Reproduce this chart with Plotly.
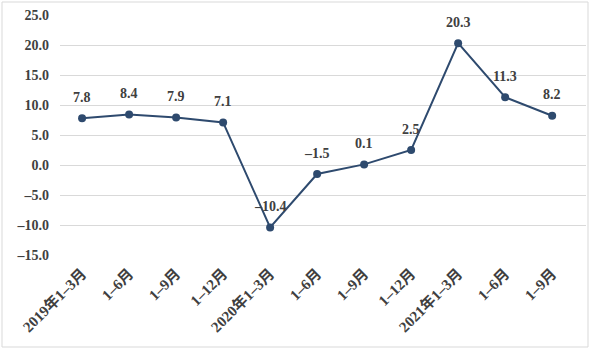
import plotly.graph_objects as go

categories = ["2019年1–3月", "1–6月", "1–9月", "1–12月", "2020年1–3月", "1–6月 ", "1–9月 ",
              "1–12月 ", "2021年1–3月", "1–6月  ", "1–9月  "]
values = [7.8, 8.4, 7.9, 7.1, -10.4, -1.5, 0.1, 2.5, 20.3, 11.3, 8.2]
labels = ["7.8", "8.4", "7.9", "7.1", "–10.4", "–1.5", "0.1", "2.5", "20.3", "11.3", "8.2"]
yticks = [25, 20, 15, 10, 5, 0, -5, -10, -15]
yticktext = ["25.0", "20.0", "15.0", "10.0", "5.0", "0.0", "–5.0", "–10.0", "–15.0"]

font_family = "Liberation Serif, Times New Roman, Noto Sans CJK SC, serif"

fig = go.Figure()
fig.add_trace(go.Scatter(
    x=categories, y=values, mode="lines+markers",
    line=dict(color="#2e4a6e", width=2),
    marker=dict(color="#2e4a6e", size=8),
    cliponaxis=False,
))
for c, v, t in zip(categories, values, labels):
    fig.add_annotation(x=c, y=v, text=f"<b>{t}</b>", showarrow=False, yshift=21,
                       font=dict(family=font_family, size=14, color="#404040"))

fig.update_layout(
    width=592, height=352,
    margin=dict(l=60, r=6, t=15, b=97),
    paper_bgcolor="white", plot_bgcolor="white",
    showlegend=False,
    font=dict(family=font_family, color="#404040"),
    xaxis=dict(
        type="category", tickangle=-45, showgrid=False, showline=False, ticks="",
        tickfont=dict(family=font_family, size=15, color="#404040"),
        tickvals=categories,
        ticktext=[f"<b>{c.strip()}</b>" for c in categories],
        range=[-0.47, 10.72], ticklabelstandoff=6,
    ),
    yaxis=dict(
        range=[-15, 25], tickvals=yticks,
        ticktext=[f"<b>{t}</b>" for t in yticktext],
        showgrid=True, gridcolor="#d9d9d9", gridwidth=1, zeroline=False,
        showline=False, ticks="", ticklabelstandoff=10,
        tickfont=dict(family=font_family, size=14, color="#404040"),
    ),
)
fig.add_shape(type="rect", xref="paper", yref="paper",
              x0=-58/526, x1=1 + 2/526, y0=-92/240, y1=1 + 13/240,
              line=dict(color="#d9d9d9", width=1), layer="below")

fig.write_html("out.html")
